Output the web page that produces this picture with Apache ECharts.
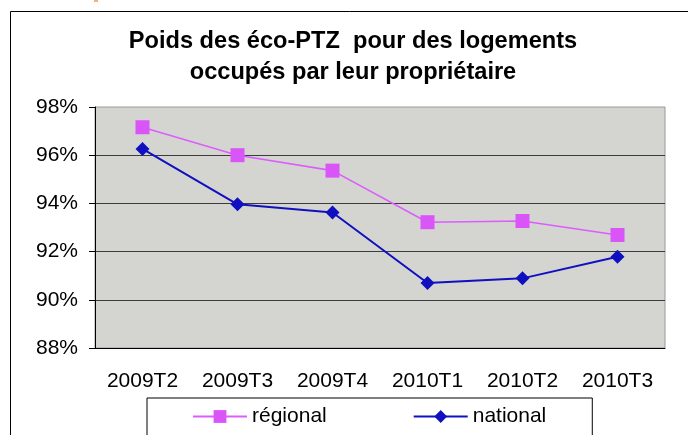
<!DOCTYPE html>
<html>
  <head>
    <meta charset="utf-8">
    <title>Poids des éco-PTZ</title>
    <script src="https://cdn.jsdelivr.net/npm/echarts@6/dist/echarts.min.js"></script>
    <style>
    html, body { margin: 0; padding: 0; background: #fff; }
    #chart { width: 688px; height: 435px; }
    </style>
  </head>
  <body>
    <div id="chart"></div>
    <script type="text/javascript">
      var categories = ['2009T2', '2009T3', '2009T4', '2010T1', '2010T2', '2010T3'];
      var regional = [97.16, 96.0, 95.36, 93.22, 93.27, 92.69];
      var national = [96.26, 93.96, 93.62, 90.70, 90.89, 91.79];
      var titleLines = ['Poids des éco-PTZ  pour des logements', 'occupés par leur propriétaire'];

      var font = '"Liberation Sans", Arial, sans-serif';
      var chart = echarts.init(document.getElementById('chart'));

      var option = {
        backgroundColor: '#fff',
        animation: false,
        graphic: [
          {
            type: 'rect', silent: true, z: -1,
            shape: { x: 10.5, y: 11.5, width: 700, height: 450 },
            style: { fill: 'none', stroke: '#000', lineWidth: 1 }
          },
          {
            type: 'rect', silent: true,
            shape: { x: 94, y: 0, width: 4, height: 2 },
            style: { fill: '#F6B36E' }
          },
          {
            type: 'text', x: 353, y: 41,
            style: { text: titleLines[0], textAlign: 'center', textVerticalAlign: 'middle',
                     font: 'bold 23.6px ' + font, fill: '#000' }
          },
          {
            type: 'text', x: 353, y: 72,
            style: { text: titleLines[1], textAlign: 'center', textVerticalAlign: 'middle',
                     font: 'bold 23.6px ' + font, fill: '#000' }
          }
        ],
        legend: {
          left: 147,
          top: 398,
          padding: [8, 46, 30, 45],
          itemGap: 86,
          itemWidth: 54,
          itemHeight: 16,
          borderColor: '#000',
          borderWidth: 1,
          textStyle: { fontSize: 21, color: '#000', fontFamily: font },
          data: ['régional', 'national']
        },
        grid: {
          left: 95, right: 23, top: 107, bottom: 87,
          outerBoundsMode: 'none',
          show: true,
          backgroundColor: '#D4D5D0',
          borderColor: '#9a9a9a',
          borderWidth: 1
        },
        xAxis: {
          type: 'category',
          data: categories,
          axisLine: { lineStyle: { color: '#000', width: 1 } },
          axisTick: { length: 6, lineStyle: { color: '#000' } },
          axisLabel: { color: '#000', fontSize: 21, fontFamily: font, margin: 23 }
        },
        yAxis: {
          type: 'value',
          min: 88, max: 98, interval: 2,
          axisLine: { show: true, lineStyle: { color: '#000', width: 1 } },
          axisTick: { show: true, length: 6, lineStyle: { color: '#000' } },
          axisLabel: { color: '#000', fontSize: 21, fontFamily: font, margin: 17, formatter: '{value}%' },
          splitLine: { showMaxLine: false, lineStyle: { color: '#3c3c3c', width: 1 } }
        },
        series: [
          {
            name: 'régional',
            type: 'line',
            data: regional,
            symbol: 'rect',
            symbolSize: 14,
            itemStyle: { color: '#D955F7' },
            lineStyle: { color: '#DD5CFF', width: 1.6 }
          },
          {
            name: 'national',
            type: 'line',
            data: national,
            symbol: 'diamond',
            symbolSize: 14,
            itemStyle: { color: '#1010C0' },
            lineStyle: { color: '#1010C0', width: 2 }
          }
        ]
      };
      chart.setOption(option);
    </script>
  </body>
</html>
